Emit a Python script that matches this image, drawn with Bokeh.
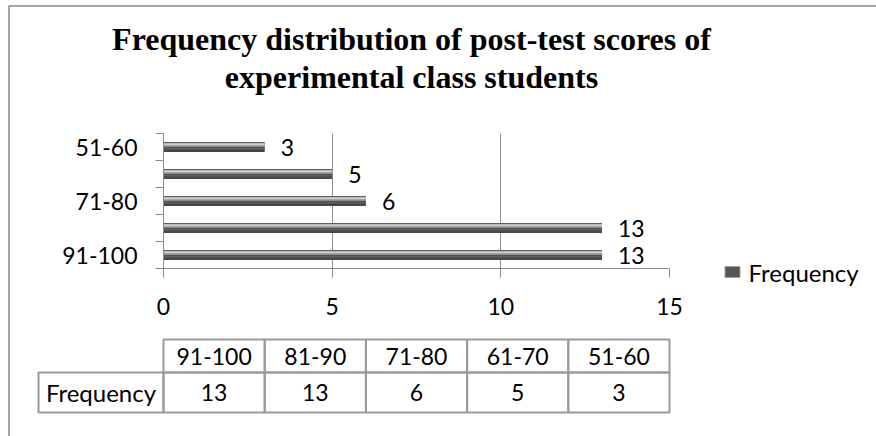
from bokeh.plotting import figure
from bokeh.models import Range1d, FixedTicker, ColumnDataSource
from bokeh.core.properties import value
from bokeh.embed import file_html
from bokeh.resources import INLINE

# ---------------- data ----------------
categories = ["91-100", "81-90", "71-80", "61-70", "51-60"]
frequency = [13, 13, 6, 5, 3]
x_ticks = [0, 5, 10, 15]
series_name = "Frequency"
title_lines = ["Frequency distribution of post-test scores of",
               "experimental class students"]

# ---------------- layout constants (pixels) ----------------
W, H = 876, 436
FL, FT = 163, 133
frame_w, frame_h = 506, 135
FR = W - FL - frame_w
FB = H - FT - frame_h
X_MAX = 15
n = len(categories)
px_x = frame_w / X_MAX
px_y = frame_h / n
PAGE = 0
F_LEFT = PAGE + FL
F_BOTTOM = PAGE + FT + frame_h


def dx(px):
    return (px - F_LEFT) / px_x


def dy(py):
    return (F_BOTTOM - py) / px_y


GRAY = "#8c8c8c"
FONT = "Lato"
FS = "23px"
FSW = "24px"

p = figure(width=W, height=H, output_backend="svg", toolbar_location=None,
           x_range=Range1d(0, X_MAX), y_range=Range1d(0, n),
           min_border_left=FL, min_border_right=FR,
           min_border_top=FT, min_border_bottom=FB)
p.outline_line_color = None
p.background_fill_color = "white"
p.border_fill_color = "white"

y_c = [i + 0.5 for i in range(n)]
src = ColumnDataSource(dict(y=y_c, right=frequency,
                            lab=[str(v) for v in frequency]))

# bars: layered to mimic cylinder shading
bar_h = 10 / px_y
p.hbar(y="y", right="right", left=0, height=bar_h, source=src,
       fill_color="#474747", line_color=None)
p.hbar(y=[v + 2.2 / px_y for v in y_c], right=frequency, left=0,
       height=4 / px_y, fill_color="#a4a4a4", line_color=None)
p.hbar(y=[v + 2.8 / px_y for v in y_c], right=frequency, left=0,
       height=1.5 / px_y, fill_color="#cfcfcf", line_color=None)
p.hbar(y=[v - 1.5 / px_y for v in y_c], right=frequency, left=0,
       height=2 / px_y, fill_color="#5e5e5e", line_color=None)

# data labels
p.text(x="right", y="y", text="lab", source=src, x_offset=16,
       text_align="left", text_baseline="middle",
       text_font=value(FONT), text_font_size=FS, text_color="black")

# x axis
p.xaxis.ticker = FixedTicker(ticks=x_ticks)
p.xaxis.axis_line_color = GRAY
p.xaxis.major_tick_line_color = GRAY
p.xaxis.major_tick_out = 9
p.xaxis.major_tick_in = 0
p.xaxis.minor_tick_line_color = None
p.xaxis.major_label_text_font = FONT
p.xaxis.major_label_text_font_size = FS
p.xaxis.major_label_text_color = "black"
p.xaxis.major_label_standoff = 20

# y axis: ticks at category boundaries, labels at centers (every other)
p.yaxis.ticker = FixedTicker(ticks=y_c, minor_ticks=list(range(n + 1)))
p.yaxis.axis_line_color = GRAY
p.yaxis.major_tick_line_color = None
p.yaxis.major_tick_out = 8
p.yaxis.major_tick_in = 0
p.yaxis.minor_tick_line_color = GRAY
p.yaxis.minor_tick_out = 8
p.yaxis.minor_tick_in = 0
p.yaxis.major_label_overrides = {
    y_c[i]: (categories[i] if i % 2 == 0 else "") for i in range(n)}
p.yaxis.major_label_text_font = FONT
p.yaxis.major_label_text_font_size = FS
p.yaxis.major_label_text_color = "black"
p.yaxis.major_label_standoff = 18

p.xgrid.ticker = FixedTicker(ticks=x_ticks)
p.xgrid.grid_line_color = GRAY
p.ygrid.visible = False

# title (two lines)
p.text(x=[dx(411)] * 2, y=[dy(38), dy(76)], text=title_lines,
       text_align="center", text_baseline="middle",
       text_font=value("Liberation Serif"), text_font_style="bold",
       text_font_size="32px", text_color="black", level="overlay")

# legend (drawn manually so it can sit outside the frame)
p.rect(x=[dx(732)], y=[dy(271.5)], width=15, height=11,
       width_units="screen", height_units="screen",
       fill_color="#555555", line_color="#a0a0a0", line_width=1,
       level="overlay")
p.text(x=[dx(748)], y=[dy(272)], text=[series_name], text_align="left",
       text_baseline="middle", text_font=value(FONT), text_font_size=FSW,
       text_color="black", level="overlay")

# data table below the chart
TBL_TOP, TBL_MID, TBL_BOT = 339, 372, 412
LABEL_LEFT = 38
col_w = X_MAX / n
col_l = [i * col_w for i in range(n)]
col_r = [(i + 1) * col_w for i in range(n)]
col_c = [(i + 0.5) * col_w for i in range(n)]
LINE = "#9a9a9a"
p.quad(left=col_l, right=col_r, top=dy(TBL_TOP), bottom=dy(TBL_MID),
       fill_color=None, line_color=LINE, line_width=2, level="overlay")
p.quad(left=[dx(LABEL_LEFT)] + col_l, right=[0] + col_r, top=dy(TBL_MID),
       bottom=dy(TBL_BOT), fill_color=None, line_color=LINE, line_width=2,
       level="overlay")
p.text(x=col_c, y=dy((TBL_TOP + TBL_MID) / 2), text=categories,
       text_align="center", text_baseline="middle", text_font=value(FONT),
       text_font_size=FS, text_color="black", level="overlay")
p.text(x=col_c, y=dy((TBL_MID + TBL_BOT) / 2), text=[str(v) for v in frequency],
       text_align="center", text_baseline="middle", text_font=value(FONT),
       text_font_size=FS, text_color="black", level="overlay")
p.text(x=[dx(LABEL_LEFT) / 2], y=dy((TBL_MID + TBL_BOT) / 2), text=[series_name],
       text_align="center", text_baseline="middle", text_font=value(FONT),
       text_font_size=FSW, text_color="black", level="overlay")

# outer chart border (left and top)
p.line(x=[dx(8.5), dx(8.5)], y=[dy(5), dy(436)], line_color="#a6a6a6",
       line_width=2, level="overlay")
p.line(x=[dx(8.5), dx(876)], y=[dy(5.5), dy(5.5)], line_color="#a6a6a6",
       line_width=2, level="overlay")

open("out.html", "w").write(file_html(p, INLINE))
